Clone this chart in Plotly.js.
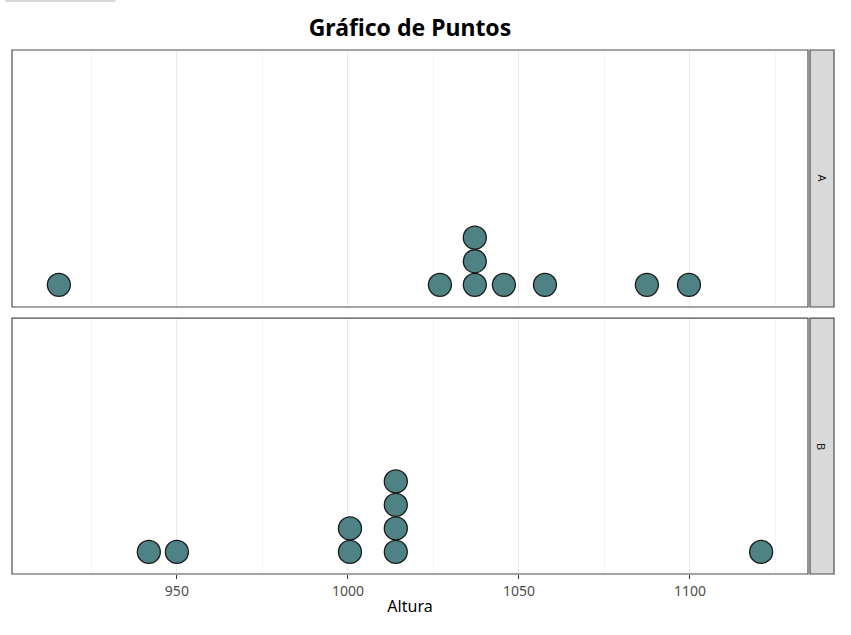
<!DOCTYPE html>
<html>
<head>
<meta charset="utf-8">
<script src="https://cdn.plot.ly/plotly-3.0.1.min.js"></script>
<style>html,body{margin:0;padding:0;background:#fff;}#chart{width:851px;height:635px;}</style>
</head>
<body>
<div id="chart"></div>
<script>
// Data (bin centres)
const grupos = ["A", "B"];
const alturaA = [915.5, 1026.9, 1037.1, 1037.1, 1037.1, 1045.6, 1057.6, 1087.4, 1099.7];
const alturaB = [941.8, 950.0, 1000.6, 1000.6, 1014.0, 1014.0, 1014.0, 1014.0, 1120.8];
const xTicks = [950, 1000, 1050, 1100];

function stack(vals) {
  const seen = {};
  return vals.map(v => { seen[v] = (seen[v] || 0) + 1; return seen[v]; });
}

const fill = "#4F8285";
const markerStyle = {size: 23, color: fill, line: {color: "#1a1a1a", width: 1.3}};

const traces = [
  {x: alturaA, y: stack(alturaA), type: "scatter", mode: "markers", marker: markerStyle, xaxis: "x", yaxis: "y", hoverinfo: "x"},
  {x: alturaB, y: stack(alturaB), type: "scatter", mode: "markers", marker: markerStyle, xaxis: "x2", yaxis: "y2", hoverinfo: "x"}
];

const xr = [901.8, 1134.5];
const yr = [0.06, 10.95];
const dTop = [0.5095, 1];
const dBot = [0, 0.4885];
const gridC = "#EBEBEB";
const minorC = "#F4F4F4";
const border = "#4d4d4d";

function xaxis(showLabels, anchor) {
  return {
    range: xr, anchor: anchor, domain: [0, 1],
    tickvals: xTicks, ticktext: xTicks.map(String),
    showticklabels: showLabels,
    ticks: showLabels ? "outside" : "", ticklen: 4, tickcolor: "#333333", tickwidth: 1,
    tickfont: {family: "Noto Sans, Open Sans, sans-serif", size: 14, color: "#4D4D4D"},
    showgrid: true, gridcolor: gridC, gridwidth: 1,
    minor: {tickvals: [925, 975, 1025, 1075, 1125], showgrid: true, gridcolor: minorC, gridwidth: 1, ticks: ""},
    zeroline: false, showline: false
  };
}
function yaxis(domain, anchor) {
  return {range: yr, domain: domain, anchor: anchor, showticklabels: false, ticks: "", showgrid: false, zeroline: false, showline: false};
}

const shapes = [];
[dTop, dBot].forEach(d => {
  // panel border
  shapes.push({type: "rect", xref: "paper", yref: "paper", x0: 0, x1: 1, y0: d[0], y1: d[1], line: {color: border, width: 1.2}, fillcolor: "rgba(0,0,0,0)", layer: "above"});
  // strip
  shapes.push({type: "rect", xref: "paper", yref: "paper", x0: 1.0025, x1: 1.0327, y0: d[0], y1: d[1], line: {color: border, width: 1.2}, fillcolor: "#D9D9D9", layer: "below"});
});
// stray line at top-left of the original image
shapes.push({type: "line", xref: "paper", yref: "paper", x0: -0.0085, x1: 0.13, y0: 1.0935, y1: 1.0935, line: {color: "#CCCCCC", width: 1.5}});

const stripFont = {family: "Noto Sans, sans-serif", size: 11, color: "#1A1A1A"};
const annotations = [
  {text: grupos[0], xref: "paper", yref: "paper", x: 1.0176, y: (dTop[0] + dTop[1]) / 2, xanchor: "center", yanchor: "middle", showarrow: false, textangle: 90, font: stripFont},
  {text: grupos[1], xref: "paper", yref: "paper", x: 1.0176, y: (dBot[0] + dBot[1]) / 2, xanchor: "center", yanchor: "middle", showarrow: false, textangle: 90, font: stripFont}
];

const layout = {
  width: 851, height: 635,
  margin: {l: 12, r: 43, t: 50, b: 61},
  paper_bgcolor: "#fff", plot_bgcolor: "rgba(0,0,0,0)",
  showlegend: false,
  title: {text: "<b>Gráfico de Puntos</b>", x: 0.4818, xanchor: "center", y: 0.956, yanchor: "middle",
          font: {family: "Noto Sans, Open Sans, sans-serif", size: 23, color: "#000"}},
  xaxis: Object.assign(xaxis(false, "y"), {matches: "x2"}),
  yaxis: yaxis(dTop, "x"),
  xaxis2: Object.assign(xaxis(true, "y2"), {title: {text: "Altura", standoff: 2, font: {family: "Noto Sans, Open Sans, sans-serif", size: 16, color: "#000"}}}),
  yaxis2: yaxis(dBot, "x2"),
  shapes: shapes,
  annotations: annotations
};

Plotly.newPlot("chart", traces, layout, {displayModeBar: false, staticPlot: true});
</script>
</body>
</html>
